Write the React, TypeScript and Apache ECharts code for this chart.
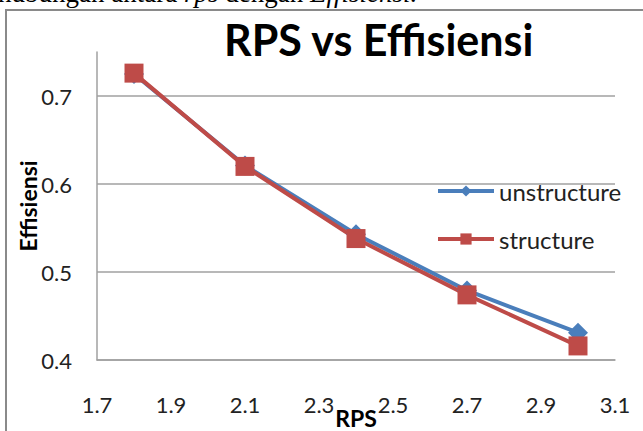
import React, { useEffect, useRef } from "react";
import * as echarts from "echarts";

const rps = [1.8, 2.1, 2.4, 2.7, 3.0];
const unstructure = [0.725, 0.621, 0.543, 0.479, 0.431];
const structure = [0.726, 0.62, 0.538, 0.474, 0.416];
const seriesNames = ["unstructure", "structure"];
const titleText = "RPS vs Effisiensi";
const xName = "RPS";
const yName = "Effisiensi";

const FONT = "Lato, 'Open Sans', sans-serif";

export default function App() {
  const ref = useRef<HTMLDivElement>(null);
  useEffect(() => {
    if (!ref.current) return;
    const chart = echarts.init(ref.current, undefined, { renderer: "svg", width: 643, height: 431 });
    chart.setOption({
      animation: false,
      backgroundColor: "#ffffff",
      title: {
        text: titleText,
        left: 219,
        top: 13,
        textStyle: { fontFamily: FONT, fontSize: 43, fontWeight: "bold", color: "#000" },
      },
      graphic: [
        {
          type: "rect",
          shape: { x: 6, y: 10, width: 700, height: 500 },
          style: { fill: "none", stroke: "#8a8a8a", lineWidth: 2 },
          silent: true,
        },
        {
          type: "text",
          x: -2,
          y: 6,
          style: {
            text: "hubungan antara {i|rps} dengan {i|Effisiensi.}",
            font: "27px 'Liberation Serif', serif",
            fill: "#000",
            verticalAlign: "bottom",
            rich: { i: { fontStyle: "italic", fontFamily: "'Liberation Serif', serif", fontSize: 27 } },
          },
          silent: true,
        },
      ],
      grid: { left: 97, right: 28, top: 52, bottom: 71, outerBoundsMode: "none", containLabel: false },
      legend: {
        orient: "vertical",
        left: 431,
        top: 174,
        itemWidth: 56,
        itemHeight: 14,
        itemGap: 24,
        data: seriesNames,
        lineStyle: { width: 4 },
        textStyle: { fontFamily: FONT, fontSize: 24, color: "#222", lineHeight: 24 },
      },
      xAxis: {
        type: "value",
        min: 1.7,
        max: 3.1,
        interval: 0.2,
        name: xName,
        nameLocation: "middle",
        nameGap: 46,
        nameMoveOverlap: false,
        nameTextStyle: { fontFamily: FONT, fontSize: 23, fontWeight: "bold", color: "#000" },
        axisLine: { show: true, lineStyle: { color: "#a0a0a0", width: 1.5 } },
        axisTick: { show: false },
        splitLine: { show: false },
        axisLabel: {
          margin: 33,
          fontFamily: FONT,
          fontSize: 22,
          color: "#222",
          formatter: (v: number) => v.toFixed(1),
        },
      },
      yAxis: {
        type: "value",
        min: 0.4,
        max: 0.75,
        interval: 0.1,
        name: yName,
        nameLocation: "middle",
        nameRotate: 90,
        nameGap: 58,
        nameMoveOverlap: false,
        nameTextStyle: { fontFamily: FONT, fontSize: 23, fontWeight: "bold", color: "#000" },
        axisLine: { show: true, lineStyle: { color: "#a0a0a0", width: 1.5 } },
        axisTick: { show: false },
        splitLine: { show: true, showMaxLine: false, lineStyle: { color: "#a0a0a0", width: 1.5 } },
        axisLabel: {
          margin: 25,
          fontFamily: FONT,
          fontSize: 22,
          color: "#222",
          showMaxLabel: false,
          formatter: (v: number) => (Math.abs(v - 0.75) < 1e-6 ? "" : v.toFixed(1)),
        },
      },
      series: [
        {
          name: seriesNames[0],
          type: "line",
          data: rps.map((x, i) => [x, unstructure[i]]),
          symbol: "diamond",
          symbolSize: 20,
          itemStyle: { color: "#4a7ebb" },
          lineStyle: { color: "#4a7ebb", width: 4 },
          clip: false,
        },
        {
          name: seriesNames[1],
          type: "line",
          data: rps.map((x, i) => [x, structure[i]]),
          symbol: "rect",
          symbolSize: 19,
          itemStyle: { color: "#be4b48" },
          lineStyle: { color: "#be4b48", width: 4 },
          clip: false,
        },
      ],
    });
    return () => chart.dispose();
  }, []);
  return (
    <div
      ref={ref}
      style={{ position: "fixed", left: 0, top: 0, width: 643, height: 431 }}
    />
  );
}
